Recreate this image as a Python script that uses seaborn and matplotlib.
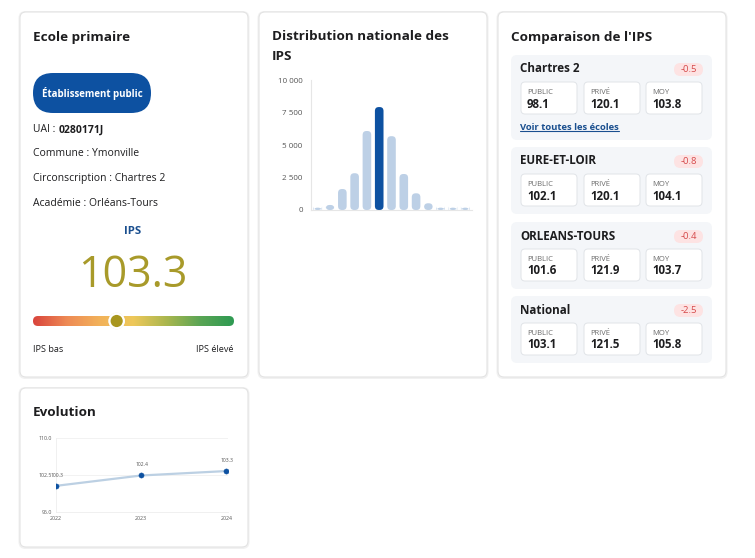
import numpy as np
import pandas as pd
import matplotlib
matplotlib.use("Agg")
import matplotlib.pyplot as plt
import seaborn as sns
from matplotlib.patches import FancyBboxPatch, Circle
from matplotlib.colors import LinearSegmentedColormap

# ---- data ----
school_type = "Établissement public"
uai = "0280171J"
info_lines = [("Commune", "Ymonville"),
              ("Circonscription", "Chartres 2"),
              ("Académie", "Orléans-Tours")]
ips_school = 103.3
ips_min, ips_max = 70, 150

hist_bins = list(range(13))
hist_counts = [180, 390, 1620, 2840, 6100, 7950, 5700, 2780, 1290, 520, 180, 180, 180]
hist_highlight = 5

comp_names = ["Chartres 2", "EURE-ET-LOIR", "ORLEANS-TOURS", "National"]
comp_public = [98.1, 102.1, 101.6, 103.1]
comp_prive = [120.1, 120.1, 121.9, 121.5]
comp_moy = [103.8, 104.1, 103.7, 105.8]

evol_years = ["2022", "2023", "2024"]
evol_ips = [100.3, 102.4, 103.3]

sns.set_theme(style="white")
plt.rcParams["font.family"] = ["Open Sans", "DejaVu Sans"]

W, H = 755, 558
fig = plt.figure(figsize=(W / 100, H / 100), dpi=100)
fig.patch.set_facecolor("white")
bg = fig.add_axes([0, 0, 1, 1])
bg.set_xlim(0, W)
bg.set_ylim(H, 0)
bg.axis("off")

DARK = "#1d1d1f"
BLUE = "#0d51a1"
TITLE = 9.7


def rbox(x0, y0, x1, y1, r, fc, ec="none", lw=0.0, z=1):
    p = FancyBboxPatch((x0, y0), x1 - x0, y1 - y0,
                       boxstyle=f"round,pad=0,rounding_size={r}",
                       fc=fc, ec=ec, lw=lw, zorder=z)
    bg.add_patch(p)
    return p


def card(x0, y0, x1, y1):
    rbox(x0 - 1.5, y0 - 1, x1 + 1.5, y1 + 2, 7, "#f1f1f1", z=0)
    rbox(x0, y0, x1, y1, 6, "white", "#e3e3e3", 0.8, z=1)


card(20, 12, 248, 377)
card(259, 12, 487, 377)
card(498, 12, 726, 377)
card(20, 388, 248, 547)

# ---- card 1: school ----
bg.text(33, 37, "Ecole primaire", fontsize=TITLE, fontweight="bold", color=DARK, va="center", zorder=3)
rbox(33, 73, 151, 113, 20, BLUE, z=2)
bg.text(92, 93, school_type, fontsize=7, fontweight="bold", color="white", ha="center", va="center", zorder=3)
bg.text(33, 130, "UAI : ", fontsize=7.5, color=DARK, va="center", zorder=3)
bg.text(59, 130, uai, fontsize=7.5, fontweight="bold", color=DARK, va="center", zorder=3)
for i, (k, v) in enumerate(info_lines):
    bg.text(33, 154 + i * 24.5, f"{k} : {v}", fontsize=7.5, color=DARK, va="center", zorder=3)

bg.text(133, 231, "IPS", fontsize=8.2, fontweight="bold", color="#1a4f8f", ha="center", va="center", zorder=3)
bg.text(133, 276, f"{ips_school:.1f}", fontsize=31, color="#a89a2a", ha="center", va="center", zorder=3)

gauge_cmap = LinearSegmentedColormap.from_list(
    "ips", ["#d9443c", "#ee8a55", "#f2b25a", "#eec85a", "#a9b64e", "#5aa555", "#2e9a52"])
gx0, gx1, gy0, gy1 = 33, 234, 316, 326
grad = np.linspace(0, 1, 256).reshape(1, -1)
clip = rbox(gx0, gy0, gx1, gy1, 5, "none", z=2)
im = bg.imshow(grad, cmap=gauge_cmap, extent=(gx0, gx1, gy1, gy0), aspect="auto", zorder=2)
im.set_clip_path(clip)
knob_x = gx0 + (ips_school - ips_min) / (ips_max - ips_min) * (gx1 - gx0)
bg.add_patch(Circle((knob_x, 321), 8.2, fc="#e6e0c0", ec="none", zorder=3))
bg.add_patch(Circle((knob_x, 321), 7.2, fc="#a8961e", ec="white", lw=1.6, zorder=4))
bg.text(33, 349, "IPS bas", fontsize=6.6, color=DARK, va="center", zorder=3)
bg.text(234, 349, "IPS élevé", fontsize=6.6, color=DARK, ha="right", va="center", zorder=3)

# ---- card 2: national distribution ----
bg.text(272, 37, "Distribution nationale des", fontsize=TITLE, fontweight="bold", color=DARK, va="center", zorder=3)
bg.text(272, 56, "IPS", fontsize=TITLE, fontweight="bold", color=DARK, va="center", zorder=3)


def px_axes(x0, y0, x1, y1):
    return fig.add_axes([x0 / W, 1 - y1 / H, (x1 - x0) / W, (y1 - y0) / H])


axh = px_axes(311, 80.5, 472, 210)
hist_df = pd.DataFrame({"bin": hist_bins, "count": hist_counts})
bar_colors = [BLUE if i == hist_highlight else "#bdd0e6" for i in hist_bins]
sns.barplot(data=hist_df, x="bin", y="count", hue="bin", palette=bar_colors,
            legend=False, width=0.7, saturation=1, ax=axh, zorder=2)
axh.set_ylim(0, 10000)
axh.set_xlim(-0.55, 12.55)
# round bar tops
y_per_px = 10000 / (210 - 80.5)
x_per_px = 13.1 / (472 - 311)
for p in list(axh.patches):
    x, w, h = p.get_x(), p.get_width(), p.get_height()
    fc = p.get_facecolor()
    p.remove()
    axh.add_patch(FancyBboxPatch((x, 0), w, h,
                                 boxstyle=f"round,pad=0,rounding_size={w * 0.45}",
                                 mutation_aspect=y_per_px / x_per_px,
                                 fc=fc, ec="none", zorder=2))
axh.set_yticks([0, 2500, 5000, 7500, 10000])
axh.set_yticklabels(["0", "2 500", "5 000", "7 500", "10 000"])
axh.set_xticks([])
axh.set_xlabel("")
axh.set_ylabel("")
axh.tick_params(axis="y", labelsize=5.8, colors="#555555", length=0, pad=6)
axh.set_facecolor("none")
for s in ["top", "right"]:
    axh.spines[s].set_visible(False)
for s in ["left", "bottom"]:
    axh.spines[s].set_color("#e6e6e6")
    axh.spines[s].set_linewidth(0.8)

# ---- card 3: comparison ----
bg.text(511, 37, "Comparaison de l'IPS", fontsize=TITLE, fontweight="bold", color=DARK, va="center", zorder=3)
box_tops = [55, 147, 222, 296]
mini_x = [(521, 577), (584, 640), (646, 702)]
mini_labels = ["PUBLIC", "PRIVÉ", "MOY"]
link_txt = None
for i, name in enumerate(comp_names):
    t = box_tops[i]
    bottom = t + 85 if i == 0 else t + 67
    rbox(511, t, 712, bottom, 6, "#f4f6f9", z=2)
    bg.text(520, t + 14, name, fontsize=8.4, fontweight="bold", color=DARK, va="center", zorder=3)
    diff = ips_school - comp_moy[i]
    rbox(674, t + 8, 703, t + 21, 6.5, "#fde3e3", z=3)
    bg.text(688.5, t + 14.5, f"{diff:.1f}", fontsize=6.8, color="#d5494a", ha="center", va="center", zorder=4)
    vals = [comp_public[i], comp_prive[i], comp_moy[i]]
    for (mx0, mx1), lab, v in zip(mini_x, mini_labels, vals):
        rbox(mx0, t + 27, mx1, t + 59, 4, "white", "#e1e4e8", 0.7, z=3)
        bg.text(mx0 + 6, t + 37.5, lab, fontsize=5.5, color="#6b6b6b", va="center", zorder=4)
        bg.text(mx0 + 6, t + 49, f"{v:.1f}", fontsize=8.3, fontweight="bold", color=DARK, va="center", zorder=4)
    if i == 0:
        link_txt = bg.text(520, t + 72, "Voir toutes les écoles", fontsize=6.8, fontweight="bold",
                           color="#1a4f8f", va="center", zorder=4)

# underline the link using its drawn extent
fig.canvas.draw()
bb = link_txt.get_window_extent().transformed(bg.transData.inverted())
bg.plot([bb.x0, bb.x1], [max(bb.y0, bb.y1) - 0.5] * 2, color="#1a4f8f", lw=0.8, zorder=4)

# ---- card 4: evolution ----
bg.text(33, 413, "Evolution", fontsize=TITLE, fontweight="bold", color=DARK, va="center", zorder=3)
axe = px_axes(56, 438, 228, 512)
evol_df = pd.DataFrame({"year": evol_years, "ips": evol_ips})
evol_df["pos"] = range(len(evol_years))
sns.lineplot(data=evol_df, x="pos", y="ips", color="#bcd0e3", lw=1.6, ax=axe, zorder=2)
sns.scatterplot(data=evol_df, x="pos", y="ips", color=BLUE, s=14, edgecolor=BLUE, ax=axe, zorder=3)
for xp, v in zip(evol_df["pos"], evol_ips):
    axe.annotate(f"{v:.1f}", (xp, v), xytext=(0.8, 6), textcoords="offset points",
                 ha="center", va="bottom", fontsize=3.6, color="#555555")
axe.set_ylim(95, 110)
axe.set_xlim(0, 2.02)
axe.set_yticks([95.0, 102.5, 110.0])
axe.set_yticklabels(["95.0", "102.5", "110.0"])
axe.set_xticks(evol_df["pos"])
axe.set_xticklabels(evol_years)
axe.set_xlabel("")
axe.set_ylabel("")
axe.tick_params(labelsize=3.8, colors="#555555", length=0, pad=3)
axe.set_facecolor("none")
axe.grid(axis="y", color="#f0f0f0", lw=0.6)
for s in ["top", "right"]:
    axe.spines[s].set_visible(False)
for s in ["left", "bottom"]:
    axe.spines[s].set_color("#eeeeee")
    axe.spines[s].set_linewidth(0.6)

fig.savefig("out.png", dpi=100, facecolor="white")
